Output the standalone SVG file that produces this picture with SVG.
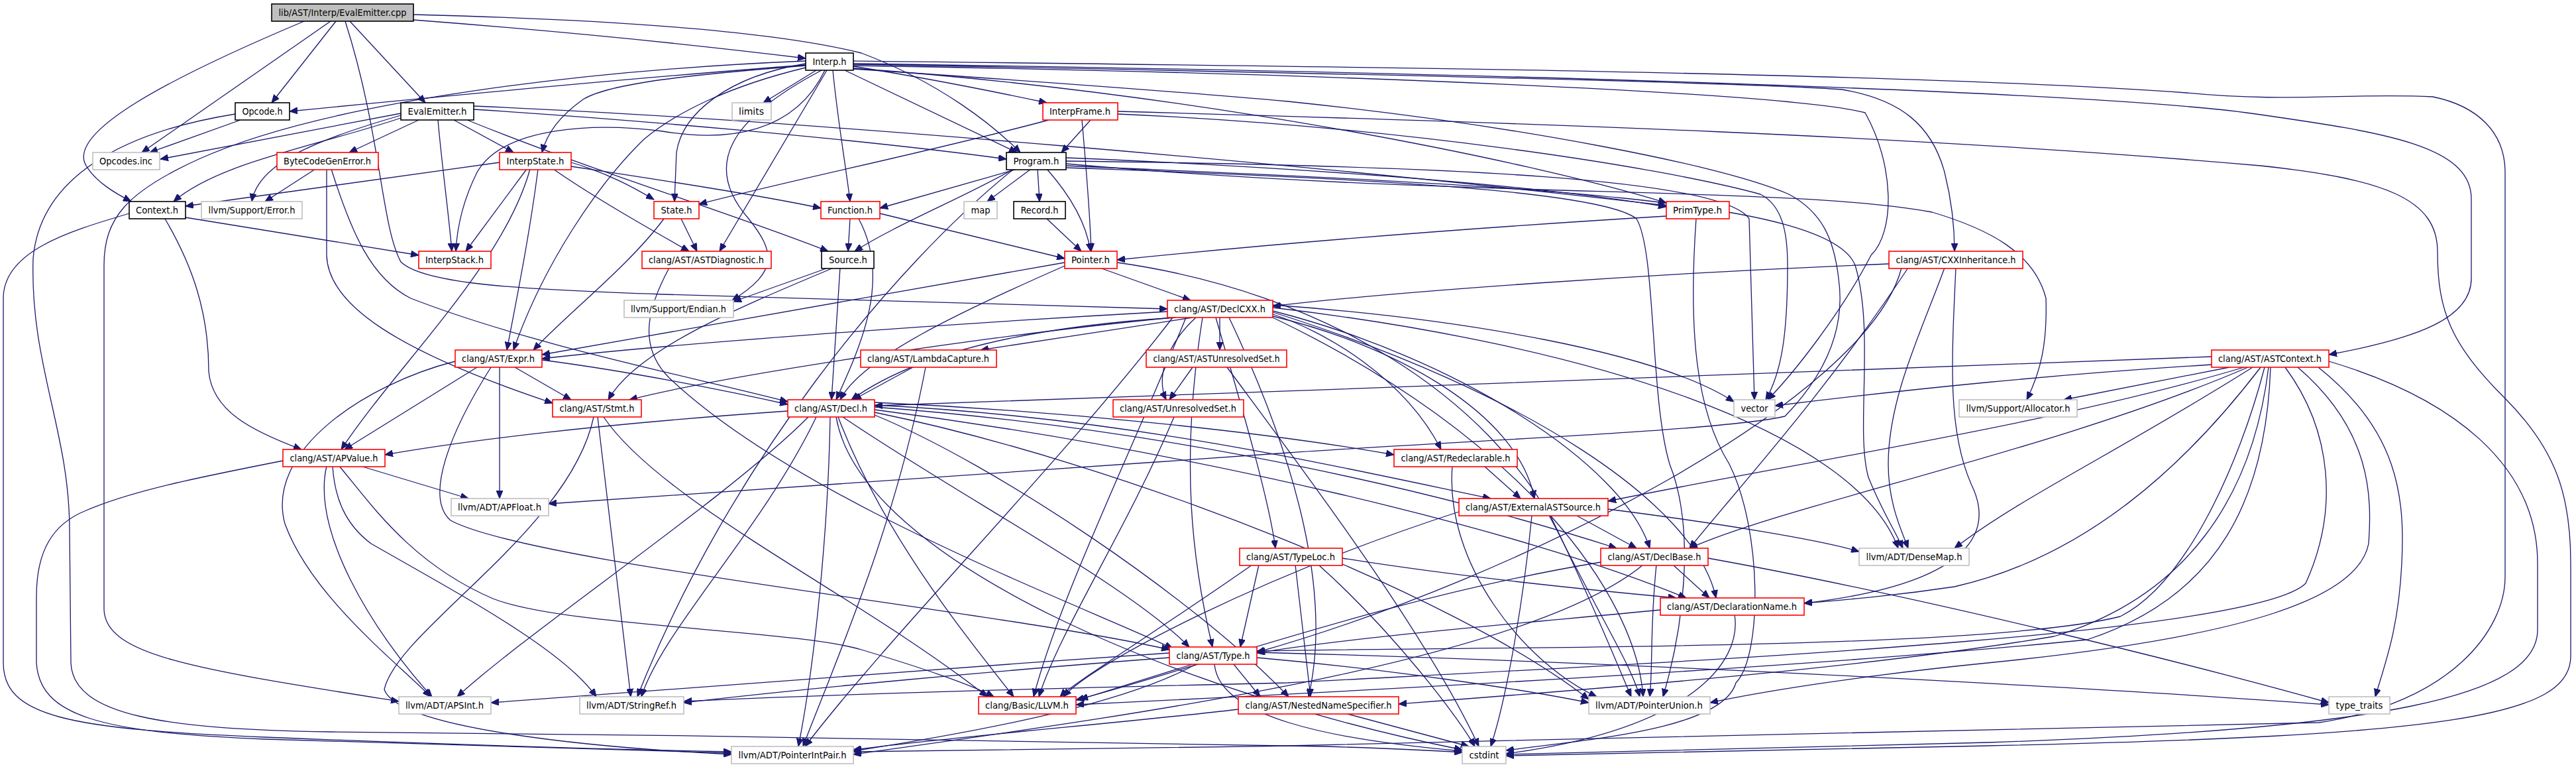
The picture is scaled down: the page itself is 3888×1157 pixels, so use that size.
<svg xmlns="http://www.w3.org/2000/svg" width="3888" height="1157" viewBox="0 0 3888 1157">
<style>
.node rect{fill:#fff;stroke-width:1.6}
.k rect{stroke:#000}
.r rect{stroke:#ff0000}
.g rect{stroke:#bfbfbf}
.root rect{fill:#bfbfbf;stroke:#000}
.node text{font-family:"DejaVu Sans Condensed","DejaVu Sans","Liberation Sans",sans-serif;font-size:14px;fill:#000;text-anchor:middle}
.edges path{fill:none;stroke:#191970;stroke-width:1.3;marker-end:url(#a)}
</style>
<defs>
<marker id="a" markerWidth="13" markerHeight="10" refX="12" refY="5" orient="auto" markerUnits="userSpaceOnUse">
<path d="M0,0 L12,5 L0,10 z" fill="#191970" stroke="#191970" stroke-width="1"/>
</marker>
</defs>
<rect x="0" y="0" width="3888" height="1157" fill="#fff"/>
<g class="edges" id="edges">
<!-- cpp -->
<path d="M624,30 C820,45 1020,64 1216,88"/>
<path d="M624,22 C950,30 1180,50 1300,80 C1420,125 1500,190 1540,230"/>
<path d="M507,32 L410,155"/>
<path d="M528,32 L642,155"/>
<path d="M499,32 L214,230"/>
<path d="M459,32 C250,120 100,200 130,250 C145,275 175,292 198,304"/>
<path d="M521,32 C575,200 575,340 605,395 C640,430 800,437 1000,444 C1300,452 1600,460 1762,466"/>
<!-- Interp -->
<path d="M1216,98 C950,118 700,142 437,168"/>
<path d="M1232,106 L1152,155"/>
<path d="M1288,100 C1400,118 1500,138 1580,155"/>
<path d="M1275,106 L1535,230"/>
<path d="M1257,106 C1264,180 1278,260 1283,304"/>
<path d="M1216,96 C1100,115 1030,170 1021,230 L1018,304"/>
<path d="M1248,106 L1086,379"/>
<path d="M1216,99 C1050,112 920,125 880,150 C845,175 826,200 818,230"/>
<path d="M1245,106 C1200,200 1100,215 1000,198 C900,185 760,190 720,260 C700,300 690,340 688,379"/>
<path d="M1216,92 C900,105 500,150 300,240 C190,290 157,330 157,400 L157,920 C160,990 300,1010 602,1058"/>
<path d="M1216,102 C1100,130 1020,170 972,210 C900,280 820,400 775,528"/>
<path d="M1240,106 C1100,180 1060,250 1130,330 C1170,380 1175,410 1105,453"/>
<path d="M1288,103 C1800,140 2300,240 2515,306"/>
<path d="M1288,97 C2000,110 2650,125 2780,135 C2870,150 2916,190 2935,260 C2945,300 2950,340 2950,379"/>
<path d="M1288,96 C2300,110 3200,140 3412,173 C3600,200 3730,220 3730,300 L3730,420 C3730,480 3650,510 3515,535"/>
<path d="M1288,92 C2000,100 2900,110 3300,140 C3450,155 3550,140 3672,146 C3740,160 3781,200 3781,260 L3781,870 C3781,950 3700,1060 3500,1090 C3200,1100 2500,1110 1944,1125 C1700,1130 1450,1132 1288,1134"/>
<path d="M1288,104 C1600,125 1800,140 1944,153 C2300,190 2600,250 2700,293 C2750,320 2768,360 2775,420 C2785,490 2760,560 2694,628 C2600,650 2200,665 1944,683 C1500,715 1000,745 828,760"/>
<path d="M1288,99 C2000,110 2700,140 2815,170 C2860,250 2860,350 2824,385 C2780,470 2710,560 2668,603"/>
<!-- Opcode -->
<path d="M363,181 L226,230"/>
<path d="M355,172 C180,200 60,270 50,390 C45,550 105,650 105,800 L107,1000 C110,1080 250,1100 500,1104 C1000,1108 1600,1118 2000,1126 C2100,1129 2160,1132 2207,1135"/>
<!-- EvalEmitter.h -->
<path d="M632,181 L527,230"/>
<path d="M685,181 L775,230"/>
<path d="M605,178 C480,220 330,245 262,304"/>
<path d="M605,174 C480,210 390,245 380,304"/>
<path d="M661,181 C667,250 677,320 682,379"/>
<path d="M605,171 L242,240"/>
<path d="M715,165 C950,180 1300,210 1519,240"/>
<path d="M715,160 C1200,180 2000,250 2515,310"/>
<path d="M705,181 C900,260 1100,320 1250,379"/>
<!-- InterpState -->
<path d="M754,245 L280,311"/>
<path d="M795,255 L703,379"/>
<path d="M862,245 C920,262 960,285 987,301"/>
<path d="M862,251 C1000,272 1150,295 1239,314"/>
<path d="M835,255 C900,300 980,345 1040,379"/>
<path d="M812,255 C800,350 780,450 765,528"/>
<path d="M800,255 C760,400 600,550 515,678"/>
<!-- ByteCodeGenError -->
<path d="M476,255 L400,304"/>
<path d="M493,255 L493,385 C495,460 600,530 834,608"/>
<path d="M500,255 C530,350 560,420 620,450 C800,520 1050,570 1189,606"/>
<!-- Context -->
<path d="M280,328 L632,385"/>
<path d="M249,330 C290,400 315,470 315,560 C320,620 380,650 455,678"/>
<path d="M195,322 C100,350 5,380 5,450 L5,1000 C5,1080 100,1100 400,1112 C700,1124 950,1131 1104,1134"/>
<!-- InterpFrame -->
<path d="M1646,181 L1602,230"/>
<path d="M1583,181 C1400,230 1200,270 1055,308"/>
<path d="M1633,181 C1640,260 1645,320 1647,379"/>
<path d="M1687,172 C2100,190 2500,250 2657,293 C2690,310 2698,350 2698,400 C2698,500 2690,560 2665,603"/>
<path d="M1687,168 C2300,185 2900,205 3412,250 C3600,270 3679,300 3679,380 C3679,470 3700,520 3780,600 C3860,680 3880,750 3880,850 L3880,990 C3880,1080 3700,1110 3000,1125 C2700,1130 2400,1136 2273,1140"/>
<!-- Program -->
<path d="M1535,255 L1328,314"/>
<path d="M1530,255 C1450,300 1350,340 1290,379"/>
<path d="M1556,255 L1490,304"/>
<path d="M1566,255 L1569,304"/>
<path d="M1580,255 C1620,300 1640,340 1646,379"/>
<path d="M1609,238 C1900,250 2300,275 2515,312"/>
<path d="M1609,247 C2200,300 2700,280 2916,320 C3000,345 3070,380 3088,450 C3090,520 3080,560 3059,603"/>
<path d="M1609,250 C2300,280 2760,300 2800,400 C2830,500 2800,650 2820,720 C2840,770 2860,800 2872,827"/>
<path d="M1609,253 C2100,270 2420,290 2470,330 C2500,380 2490,600 2520,700 C2560,800 2540,950 2510,1051"/>
<path d="M1530,255 C1350,400 1100,700 962,1051"/>
<path d="M1609,243 C2200,250 2600,270 2640,330 L2648,603"/>
<!-- Function, Record, State, Source -->
<path d="M1283,330 L1280,379"/>
<path d="M1328,322 L1607,390"/>
<path d="M1296,330 C1345,420 1300,520 1262,603"/>
<path d="M1580,330 L1632,379"/>
<path d="M1028,330 L1052,379"/>
<path d="M1002,330 C950,400 860,470 805,528"/>
<path d="M1250,404 L1107,455"/>
<path d="M1268,404 L1255,603"/>
<path d="M1258,404 C1100,470 960,530 918,603"/>
<path d="M1010,404 C980,460 960,520 1010,570 C1200,750 1600,900 1770,978"/>
<!-- PrimType -->
<path d="M2515,326 C2200,345 1900,370 1686,392"/>
<path d="M2560,330 C2548,500 2560,620 2610,700 C2660,800 2660,990 2620,1030 C2600,1100 2400,1115 2273,1132"/>
<!-- Pointer -->
<path d="M1660,404 L1797,453"/>
<path d="M1607,401 C1450,470 1300,540 1268,603"/>
<path d="M1607,396 C1300,450 1000,505 818,535"/>
<path d="M1686,396 C2000,440 2250,600 2350,800 C2420,940 2460,1000 2475,1051"/>
<!-- CXXInheritance -->
<path d="M2851,398 C2500,412 2100,440 1921,462"/>
<path d="M2880,404 C2750,600 2620,740 2550,827"/>
<path d="M2935,404 C2900,500 2850,600 2850,700 C2850,760 2870,800 2880,827"/>
<path d="M2952,404 C2945,550 2940,650 2975,730 C3010,800 2980,880 2723,910"/>
<path d="M2870,404 C2820,600 2300,870 1897,984"/>
<!-- ASTContext -->
<path d="M3338,538 C2800,555 2000,590 1320,612"/>
<path d="M3338,550 C3100,565 2900,585 2679,612"/>
<path d="M3365,554 L3115,603"/>
<path d="M3387,554 C3100,640 2700,700 2427,756"/>
<path d="M3393,554 C3100,680 2700,760 2550,827"/>
<path d="M3400,554 C3200,680 3050,750 2950,827"/>
<path d="M3412,554 C3300,700 3150,840 2950,885 C2850,900 2780,905 2723,910"/>
<path d="M3418,554 C3380,700 3300,880 3200,930 C3000,980 2300,975 1897,982"/>
<path d="M3424,554 C3400,750 3300,900 3100,960 C2800,1010 2400,1040 2111,1062"/>
<path d="M3427,554 C3420,750 3350,900 3150,965 C2700,1010 2000,1045 1624,1063"/>
<path d="M3449,554 C3520,650 3530,770 3480,880 C3400,960 2500,1000 1944,1030 C1500,1040 1200,1050 1032,1058"/>
<path d="M3468,554 C3580,650 3580,750 3575,820 C3560,900 3400,960 3000,1000 C2800,1020 2650,1045 2581,1060"/>
<path d="M3499,554 C3620,650 3630,750 3625,850 C3620,950 3600,1000 3585,1051"/>
<path d="M3515,545 C3700,600 3830,700 3830,850 L3830,950 C3830,1050 3600,1100 3000,1120 C2700,1128 2400,1134 2273,1138"/>
<!-- DeclCXX -->
<path d="M1762,470 C1400,490 1000,520 818,541"/>
<path d="M1770,479 C1500,505 1100,565 950,603"/>
<path d="M1800,479 L1480,528"/>
<path d="M1841,479 L1841,528"/>
<path d="M1805,479 C1760,520 1745,570 1760,603"/>
<path d="M1775,479 C1600,490 1400,520 1285,603"/>
<path d="M1921,474 C2000,500 2120,570 2175,678"/>
<path d="M1921,477 C2100,520 2290,620 2316,752"/>
<path d="M1921,469 C2200,540 2450,700 2490,827"/>
<path d="M1921,471 C2300,590 2560,760 2590,902"/>
<path d="M1815,479 C1780,700 1800,850 1830,976"/>
<path d="M1835,479 C1870,600 1915,750 1925,827"/>
<path d="M1855,479 C1960,700 2010,900 1975,1051"/>
<path d="M1790,479 C1700,700 1600,900 1560,1051"/>
<path d="M1921,479 C2300,660 2470,900 2480,1051"/>
<path d="M1770,479 C1600,700 1350,950 1215,1126"/>
<path d="M1921,464 C2400,520 2800,650 2865,827"/>
<path d="M1921,460 C2200,480 2500,530 2617,606"/>
<!-- ASTUnresolvedSet, UnresolvedSet, LambdaCapture -->
<path d="M1800,554 L1765,603"/>
<path d="M1852,554 C1960,700 2150,950 2232,1126"/>
<path d="M1772,629 C1700,800 1600,950 1568,1051"/>
<path d="M1378,554 L1288,603"/>
<path d="M1397,554 C1350,800 1260,1000 1212,1126"/>
<!-- Expr -->
<path d="M720,554 L520,678"/>
<path d="M777,554 L862,603"/>
<path d="M754,554 L754,752"/>
<path d="M687,545 C550,580 400,680 430,790 C470,900 600,1000 650,1051"/>
<path d="M818,543 C950,560 1100,590 1189,610"/>
<path d="M741,554 C680,650 640,750 680,785 C800,850 1500,920 1765,980"/>
<!-- Stmt -->
<path d="M896,629 C860,800 600,950 580,1040 C600,1100 900,1128 1104,1138"/>
<path d="M902,629 L952,1051"/>
<path d="M911,629 C1000,760 1300,900 1490,1051"/>
<!-- APValue -->
<path d="M544,703 L707,752"/>
<path d="M493,703 C470,800 560,950 652,1051"/>
<path d="M427,695 C300,720 200,740 130,770 C80,790 55,830 55,900 L55,1000 C60,1080 150,1105 400,1115 C700,1125 950,1133 1104,1136"/>
<path d="M512,703 C560,760 620,850 744,903 C850,945 1200,950 1300,980 C1400,1010 1470,1035 1500,1051"/>
<path d="M502,703 C505,750 520,790 560,820 C700,900 850,980 900,1051"/>
<!-- Decl -->
<path d="M1189,620 C900,640 700,665 581,686"/>
<path d="M1220,629 C1100,750 800,950 690,1051"/>
<path d="M1232,629 C1150,800 1000,950 968,1051"/>
<path d="M1253,629 C1250,800 1230,1000 1205,1126"/>
<path d="M1265,629 C1330,800 1450,950 1530,1051"/>
<path d="M1272,629 C1450,750 1700,880 1795,976"/>
<path d="M1320,626 C1500,700 1800,900 1945,1051"/>
<path d="M1320,622 C1700,700 2200,900 2398,1055"/>
<path d="M1320,618 C1800,680 2300,800 2545,902"/>
<path d="M1320,614 C1800,650 2200,750 2440,827"/>
<path d="M1320,611 C1700,630 2000,700 2250,752"/>
<path d="M1320,607 C1600,620 1900,650 2104,686"/>
<path d="M1262,629 C1300,850 1800,1050 2207,1131"/>
<!-- Redeclarable, ExternalASTSource -->
<path d="M2240,703 L2295,752"/>
<path d="M2192,703 C2180,850 2300,1000 2410,1051"/>
<path d="M2380,778 L2470,827"/>
<path d="M2312,778 C2300,900 2275,1050 2250,1126"/>
<path d="M2340,778 C2400,900 2440,1000 2462,1051"/>
<path d="M2202,772 C1900,870 1650,1000 1605,1051"/>
<path d="M2427,768 C2600,790 2750,815 2806,832"/>
<!-- TypeLoc -->
<path d="M1900,852 L1872,976"/>
<path d="M1890,852 C1750,950 1620,1030 1600,1051"/>
<path d="M1955,852 L1978,1051"/>
<path d="M1990,852 C2100,950 2200,1080 2226,1126"/>
<path d="M2026,842 C2200,870 2400,890 2530,902"/>
<!-- DeclBase -->
<path d="M2525,852 L2580,902"/>
<path d="M2416,848 C2100,900 1800,1010 1624,1056"/>
<path d="M2480,852 C2300,1000 1700,1080 1288,1138"/>
<path d="M2500,852 C2490,950 2495,1000 2490,1051"/>
<path d="M2578,842 C2900,900 3300,1000 3515,1060"/>
<!-- DeclarationName -->
<path d="M2506,920 C2300,940 2050,960 1897,985"/>
<path d="M2618,927 C2630,1000 2550,1100 2273,1137"/>
<!-- Type -->
<path d="M1862,1002 L1902,1051"/>
<path d="M1800,1002 L1630,1055"/>
<path d="M1765,985 C1400,1010 1000,1040 741,1060"/>
<path d="M1765,992 C1500,1012 1200,1040 1032,1060"/>
<path d="M1805,1002 C1700,1060 1500,1100 1288,1133"/>
<path d="M1897,992 C2100,1010 2300,1040 2398,1060"/>
<path d="M1833,1002 C1840,1080 2000,1115 2207,1133"/>
<path d="M1897,984 C2500,1000 3200,1040 3515,1063"/>
<!-- NestedNameSpecifier -->
<path d="M1869,1070 C1700,1090 1450,1110 1288,1131"/>
<path d="M2030,1076 L2217,1126"/>
</g>
<g id="n_cpp" class="node root"><rect x="410" y="6" width="214" height="26"/><text x="517" y="24" textLength="193" lengthAdjust="spacingAndGlyphs">lib/AST/Interp/EvalEmitter.cpp</text></g>
<g id="n_interp" class="node k"><rect x="1216" y="80" width="72" height="26"/><text x="1252" y="98" textLength="51" lengthAdjust="spacingAndGlyphs">Interp.h</text></g>
<g id="n_opcode" class="node k"><rect x="355" y="155" width="82" height="26"/><text x="396" y="173" textLength="61" lengthAdjust="spacingAndGlyphs">Opcode.h</text></g>
<g id="n_evalemitter" class="node k"><rect x="605" y="155" width="110" height="26"/><text x="660" y="173" textLength="89" lengthAdjust="spacingAndGlyphs">EvalEmitter.h</text></g>
<g id="n_limits" class="node g"><rect x="1105" y="155" width="59" height="26"/><text x="1134" y="173" textLength="38" lengthAdjust="spacingAndGlyphs">limits</text></g>
<g id="n_interpframe" class="node r"><rect x="1574" y="155" width="113" height="26"/><text x="1630" y="173" textLength="92" lengthAdjust="spacingAndGlyphs">InterpFrame.h</text></g>
<g id="n_opcodesinc" class="node g"><rect x="140" y="230" width="101" height="26"/><text x="190" y="248" textLength="80" lengthAdjust="spacingAndGlyphs">Opcodes.inc</text></g>
<g id="n_bcge" class="node r"><rect x="418" y="230" width="153" height="26"/><text x="494" y="248" textLength="132" lengthAdjust="spacingAndGlyphs">ByteCodeGenError.h</text></g>
<g id="n_interpstate" class="node r"><rect x="754" y="230" width="108" height="26"/><text x="808" y="248" textLength="87" lengthAdjust="spacingAndGlyphs">InterpState.h</text></g>
<g id="n_program" class="node k"><rect x="1519" y="230" width="90" height="26"/><text x="1564" y="248" textLength="69" lengthAdjust="spacingAndGlyphs">Program.h</text></g>
<g id="n_context" class="node k"><rect x="195" y="304" width="85" height="26"/><text x="237" y="322" textLength="64" lengthAdjust="spacingAndGlyphs">Context.h</text></g>
<g id="n_error" class="node g"><rect x="304" y="304" width="152" height="26"/><text x="380" y="322" textLength="131" lengthAdjust="spacingAndGlyphs">llvm/Support/Error.h</text></g>
<g id="n_state" class="node r"><rect x="987" y="304" width="68" height="26"/><text x="1021" y="322" textLength="47" lengthAdjust="spacingAndGlyphs">State.h</text></g>
<g id="n_function" class="node r"><rect x="1239" y="304" width="89" height="26"/><text x="1283" y="322" textLength="68" lengthAdjust="spacingAndGlyphs">Function.h</text></g>
<g id="n_map" class="node g"><rect x="1455" y="304" width="50" height="26"/><text x="1480" y="322" textLength="29" lengthAdjust="spacingAndGlyphs">map</text></g>
<g id="n_record" class="node k"><rect x="1530" y="304" width="78" height="26"/><text x="1569" y="322" textLength="57" lengthAdjust="spacingAndGlyphs">Record.h</text></g>
<g id="n_primtype" class="node r"><rect x="2515" y="304" width="95" height="26"/><text x="2562" y="322" textLength="74" lengthAdjust="spacingAndGlyphs">PrimType.h</text></g>
<g id="n_interpstack" class="node r"><rect x="632" y="379" width="109" height="26"/><text x="686" y="397" textLength="88" lengthAdjust="spacingAndGlyphs">InterpStack.h</text></g>
<g id="n_astdiag" class="node r"><rect x="969" y="379" width="195" height="26"/><text x="1066" y="397" textLength="174" lengthAdjust="spacingAndGlyphs">clang/AST/ASTDiagnostic.h</text></g>
<g id="n_source" class="node k"><rect x="1240" y="379" width="79" height="26"/><text x="1280" y="397" textLength="58" lengthAdjust="spacingAndGlyphs">Source.h</text></g>
<g id="n_pointer" class="node r"><rect x="1607" y="379" width="79" height="26"/><text x="1646" y="397" textLength="58" lengthAdjust="spacingAndGlyphs">Pointer.h</text></g>
<g id="n_cxxinh" class="node r"><rect x="2851" y="379" width="202" height="26"/><text x="2952" y="397" textLength="181" lengthAdjust="spacingAndGlyphs">clang/AST/CXXInheritance.h</text></g>
<g id="n_endian" class="node g"><rect x="942" y="453" width="165" height="26"/><text x="1024" y="471" textLength="144" lengthAdjust="spacingAndGlyphs">llvm/Support/Endian.h</text></g>
<g id="n_declcxx" class="node r"><rect x="1762" y="453" width="159" height="26"/><text x="1841" y="471" textLength="138" lengthAdjust="spacingAndGlyphs">clang/AST/DeclCXX.h</text></g>
<g id="n_expr" class="node r"><rect x="687" y="528" width="131" height="26"/><text x="752" y="546" textLength="110" lengthAdjust="spacingAndGlyphs">clang/AST/Expr.h</text></g>
<g id="n_lambda" class="node r"><rect x="1299" y="528" width="205" height="26"/><text x="1401" y="546" textLength="184" lengthAdjust="spacingAndGlyphs">clang/AST/LambdaCapture.h</text></g>
<g id="n_astunres" class="node r"><rect x="1730" y="528" width="212" height="26"/><text x="1836" y="546" textLength="191" lengthAdjust="spacingAndGlyphs">clang/AST/ASTUnresolvedSet.h</text></g>
<g id="n_astcontext" class="node r"><rect x="3338" y="528" width="177" height="26"/><text x="3426" y="546" textLength="156" lengthAdjust="spacingAndGlyphs">clang/AST/ASTContext.h</text></g>
<g id="n_stmt" class="node r"><rect x="834" y="603" width="134" height="26"/><text x="901" y="621" textLength="113" lengthAdjust="spacingAndGlyphs">clang/AST/Stmt.h</text></g>
<g id="n_decl" class="node r"><rect x="1189" y="603" width="131" height="26"/><text x="1254" y="621" textLength="110" lengthAdjust="spacingAndGlyphs">clang/AST/Decl.h</text></g>
<g id="n_unresset" class="node r"><rect x="1680" y="603" width="197" height="26"/><text x="1778" y="621" textLength="176" lengthAdjust="spacingAndGlyphs">clang/AST/UnresolvedSet.h</text></g>
<g id="n_vector" class="node g"><rect x="2617" y="603" width="62" height="26"/><text x="2648" y="621" textLength="41" lengthAdjust="spacingAndGlyphs">vector</text></g>
<g id="n_allocator" class="node g"><rect x="2957" y="603" width="178" height="26"/><text x="3046" y="621" textLength="157" lengthAdjust="spacingAndGlyphs">llvm/Support/Allocator.h</text></g>
<g id="n_apvalue" class="node r"><rect x="427" y="678" width="154" height="26"/><text x="504" y="696" textLength="133" lengthAdjust="spacingAndGlyphs">clang/AST/APValue.h</text></g>
<g id="n_redecl" class="node r"><rect x="2104" y="678" width="186" height="26"/><text x="2197" y="696" textLength="165" lengthAdjust="spacingAndGlyphs">clang/AST/Redeclarable.h</text></g>
<g id="n_apfloat" class="node g"><rect x="681" y="752" width="147" height="26"/><text x="754" y="770" textLength="126" lengthAdjust="spacingAndGlyphs">llvm/ADT/APFloat.h</text></g>
<g id="n_extast" class="node r"><rect x="2202" y="752" width="225" height="26"/><text x="2314" y="770" textLength="204" lengthAdjust="spacingAndGlyphs">clang/AST/ExternalASTSource.h</text></g>
<g id="n_typeloc" class="node r"><rect x="1871" y="827" width="155" height="26"/><text x="1948" y="845" textLength="134" lengthAdjust="spacingAndGlyphs">clang/AST/TypeLoc.h</text></g>
<g id="n_declbase" class="node r"><rect x="2416" y="827" width="162" height="26"/><text x="2497" y="845" textLength="141" lengthAdjust="spacingAndGlyphs">clang/AST/DeclBase.h</text></g>
<g id="n_densemap" class="node g"><rect x="2806" y="827" width="166" height="26"/><text x="2889" y="845" textLength="145" lengthAdjust="spacingAndGlyphs">llvm/ADT/DenseMap.h</text></g>
<g id="n_declname" class="node r"><rect x="2506" y="902" width="217" height="26"/><text x="2614" y="920" textLength="196" lengthAdjust="spacingAndGlyphs">clang/AST/DeclarationName.h</text></g>
<g id="n_type" class="node r"><rect x="1765" y="976" width="132" height="26"/><text x="1831" y="994" textLength="111" lengthAdjust="spacingAndGlyphs">clang/AST/Type.h</text></g>
<g id="n_apsint" class="node g"><rect x="602" y="1051" width="139" height="26"/><text x="671" y="1069" textLength="118" lengthAdjust="spacingAndGlyphs">llvm/ADT/APSInt.h</text></g>
<g id="n_stringref" class="node g"><rect x="875" y="1051" width="157" height="26"/><text x="953" y="1069" textLength="136" lengthAdjust="spacingAndGlyphs">llvm/ADT/StringRef.h</text></g>
<g id="n_llvm" class="node r"><rect x="1477" y="1051" width="147" height="26"/><text x="1550" y="1069" textLength="126" lengthAdjust="spacingAndGlyphs">clang/Basic/LLVM.h</text></g>
<g id="n_nns" class="node r"><rect x="1869" y="1051" width="242" height="26"/><text x="1990" y="1069" textLength="221" lengthAdjust="spacingAndGlyphs">clang/AST/NestedNameSpecifier.h</text></g>
<g id="n_pointerunion" class="node g"><rect x="2398" y="1051" width="183" height="26"/><text x="2489" y="1069" textLength="162" lengthAdjust="spacingAndGlyphs">llvm/ADT/PointerUnion.h</text></g>
<g id="n_typetraits" class="node g"><rect x="3515" y="1051" width="92" height="26"/><text x="3561" y="1069" textLength="71" lengthAdjust="spacingAndGlyphs">type_traits</text></g>
<g id="n_pointerintpair" class="node g"><rect x="1104" y="1126" width="184" height="26"/><text x="1196" y="1144" textLength="163" lengthAdjust="spacingAndGlyphs">llvm/ADT/PointerIntPair.h</text></g>
<g id="n_cstdint" class="node g"><rect x="2207" y="1126" width="66" height="26"/><text x="2240" y="1144" textLength="45" lengthAdjust="spacingAndGlyphs">cstdint</text></g>
</svg>
